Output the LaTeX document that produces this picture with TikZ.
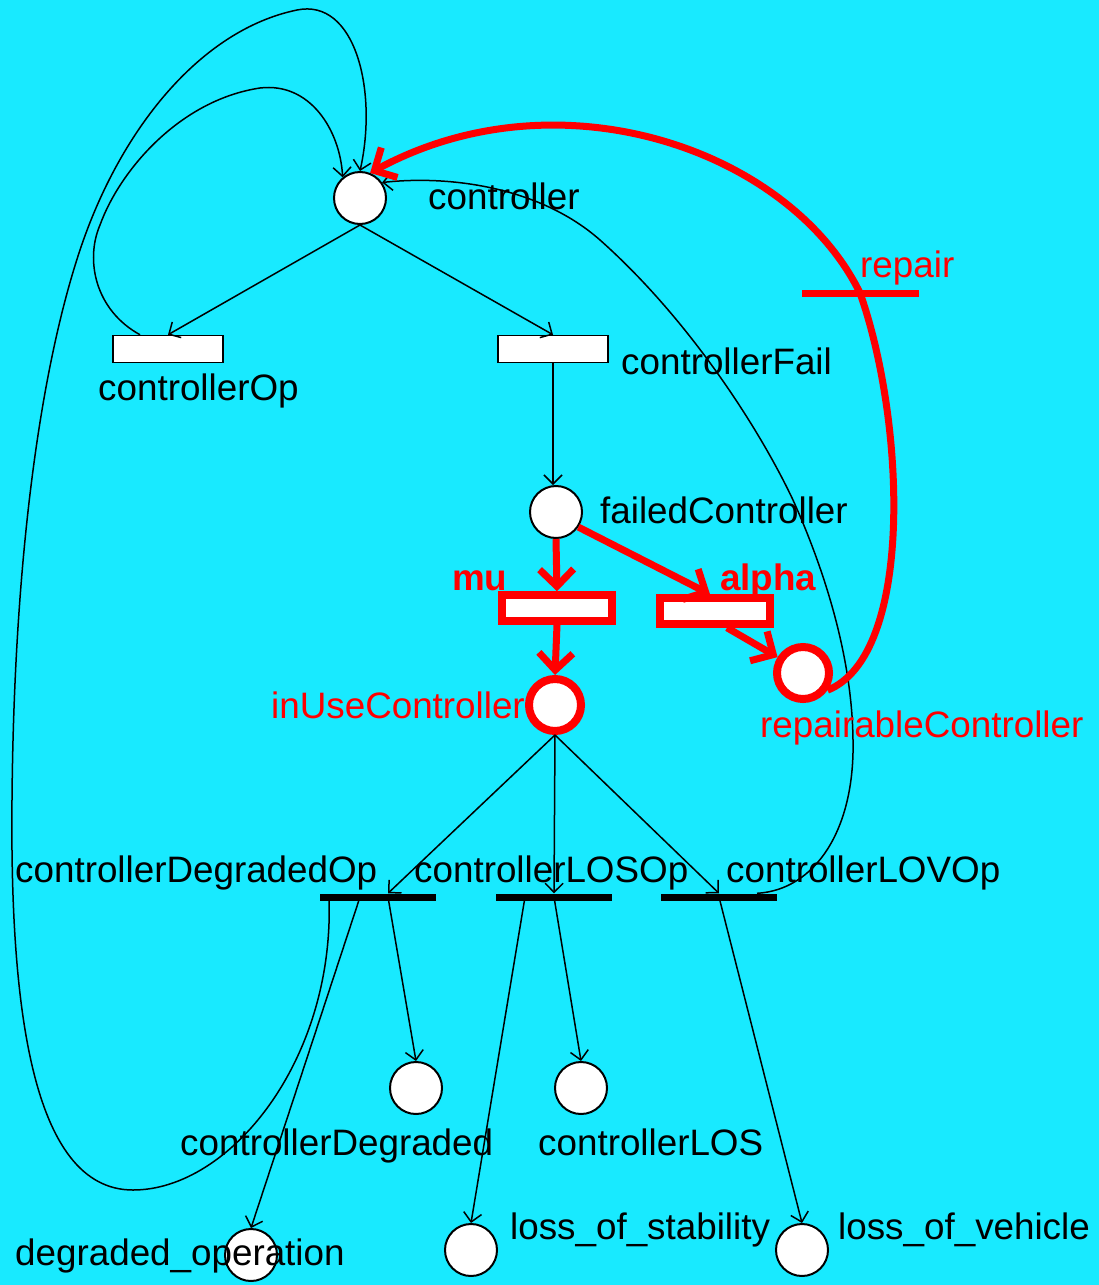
\documentclass[tikz,border=0pt]{standalone}
\usepackage{fontspec}
\setmainfont{Liberation Sans}
\usetikzlibrary{arrows.meta,calc}
\definecolor{netbg}{RGB}{24,234,255}
\definecolor{hot}{RGB}{255,0,0}

\begin{document}
\begin{tikzpicture}[x=1pt,y=-1pt,
  place/.style={circle,draw=black,fill=white,line width=2pt,minimum size=52pt,inner sep=0pt},
  hotplace/.style={circle,draw=hot,fill=white,line width=8pt,minimum size=52pt,inner sep=0pt},
  trans/.style={rectangle,draw=black,fill=white,line width=1.5pt,minimum width=110pt,minimum height=27pt,inner sep=0pt},
  hottrans/.style={rectangle,draw=hot,fill=white,line width=7.5pt,minimum width=110pt,minimum height=26pt,inner sep=0pt},
  bar/.style={rectangle,fill=black,minimum width=116pt,minimum height=7pt,inner sep=0pt},
  hotbar/.style={rectangle,fill=hot,minimum width=117pt,minimum height=7pt,inner sep=0pt},
  lbl/.style={font=\fontsize{36.8}{40}\selectfont,inner sep=0pt},
  hotlbl/.style={lbl,text=hot},
  arc/.style={line width=1.5pt,-{Straight Barb[length=9pt,width=18pt]}},
  hotline/.style={draw=hot,line width=7pt},
  hotarc/.style={hotline,-{Straight Barb[length=17pt,width=34pt]}},
]
% canvas
\useasboundingbox (0,0) rectangle (1099,1285);
\fill[netbg] (0,0) rectangle (1099,1285);

% places and transitions
\node[place] (ctrl) at (360,198) {};
\node[trans] (cop) at (168,349) {};
\node[trans] (cfail) at (553,349) {};
\node[place] (fc) at (556,512) {};
\node[hottrans] (mu) at (557,608) {};
\node[hottrans] (alpha) at (715,611) {};
\node[hotplace] (iu) at (555,705) {};
\node[hotplace] (rc) at (803,673) {};
\node[hotbar] (rep) at (860,293) {};
\node[bar] (dego) at (378,897) {};
\node[bar] (loso) at (554,897) {};
\node[bar] (lovo) at (719,897) {};
\node[place] (cdeg) at (416,1088) {};
\node[place] (clos) at (581,1088) {};
\node[place] (dop) at (251,1255) {};
\node[place] (los) at (471,1250) {};
\node[place] (lov) at (802,1250) {};

% arcs
\draw[arc] (ctrl.south) -- (cop.north);
\draw[arc] (ctrl.south) -- (cfail.north);
\draw[arc] (cfail.south) -- (cfail.south |- fc.north);
\draw[hotarc] (fc.south) -- (mu.north);
\draw[hotarc] (fc.-34) -- ([xshift=-5pt]alpha.north);
\draw[hotarc] (mu.south) -- (iu.north);
\draw[hotarc] ([xshift=12pt]alpha.south) -- (rc.148);

\draw[arc] (iu.south) -- ([xshift=10pt]dego.north);
\draw[arc] (iu.south) -- (loso.north);
\draw[arc] (iu.south) -- (lovo.north);

\draw[arc] ([xshift=10pt]dego.center) -- (cdeg.north);
\draw[arc] ([xshift=-18pt]dego.center) -- (dop.north);
\draw[arc] (loso.center) -- (clos.north);
\draw[arc] ([xshift=-29pt]loso.center) -- (los.north);
\draw[arc] (lovo.center) -- (lov.north);

% feedback arcs into controller
\draw[arc] ([xshift=-28pt]cop.north) .. controls (95,310) and (85,260) .. (100,225)
  .. controls (120,170) and (180,100) .. (260,88)
  .. controls (310,82) and (340,130) .. (ctrl.130);
\draw[arc] ([xshift=-49pt]dego.center) .. controls (335,1060) and (230,1190) .. (133,1190)
  .. controls (30,1190) and (10,1000) .. (12,800)
  .. controls (14,560) and (40,370) .. (80,250)
  .. controls (120,130) and (200,30) .. (297,10)
  .. controls (355,-2) and (378,90) .. (ctrl.north);
\draw[arc] ([xshift=38pt]lovo.north) .. controls (815,890) and (855,830) .. (853,740)
  .. controls (852,650) and (820,560) .. (793,500)
  .. controls (760,430) and (690,320) .. (600,240)
  .. controls (540,187) and (450,175) .. (ctrl.35);

% repair loop
\draw[hotline] (rc.-35) .. controls (915,655) and (905,420) .. (rep.center);
\draw[hotarc] (rep.center) .. controls (790,150) and (560,70) .. (ctrl.68);

% labels
\node[lbl,anchor=base west] (tctrl) at (428,209) {controller};
\node[lbl,anchor=base west] (tcop) at (98,400) {controllerOp};
\node[lbl,anchor=base west] (tcfail) at (621,374) {controllerFail};
\node[lbl,anchor=base west] (tfc) at (600,523) {failedController};
\node[hotlbl,anchor=base west,font=\fontsize{36.8}{40}\selectfont\bfseries] (tmu) at (452,590) {mu};
\node[hotlbl,anchor=base west,font=\fontsize{36.8}{40}\selectfont\bfseries] (talpha) at (720,590) {alpha};
\node[hotlbl,anchor=base east] (tiu) at (525,718) {inUseController};
\node[hotlbl,anchor=base west] (trc) at (760,737) {repairableController};
\node[hotlbl,anchor=base west] (trep) at (860,277) {repair};
\node[lbl,anchor=base west] (tdego) at (15,882) {controllerDegradedOp};
\node[lbl,anchor=base west] (tloso) at (414,882) {controllerLOSOp};
\node[lbl,anchor=base west] (tlovo) at (726,882) {controllerLOVOp};
\node[lbl,anchor=base west] (tcdeg) at (180,1155) {controllerDegraded};
\node[lbl,anchor=base west] (tclos) at (538,1155) {controllerLOS};
\node[lbl,anchor=base west] (tdop) at (15,1265) {degraded\_operation};
\node[lbl,anchor=base west] (tlos) at (510,1239) {loss\_of\_stability};
\node[lbl,anchor=base west] (tlov) at (838,1239) {loss\_of\_vehicle};
\end{tikzpicture}
\end{document}
